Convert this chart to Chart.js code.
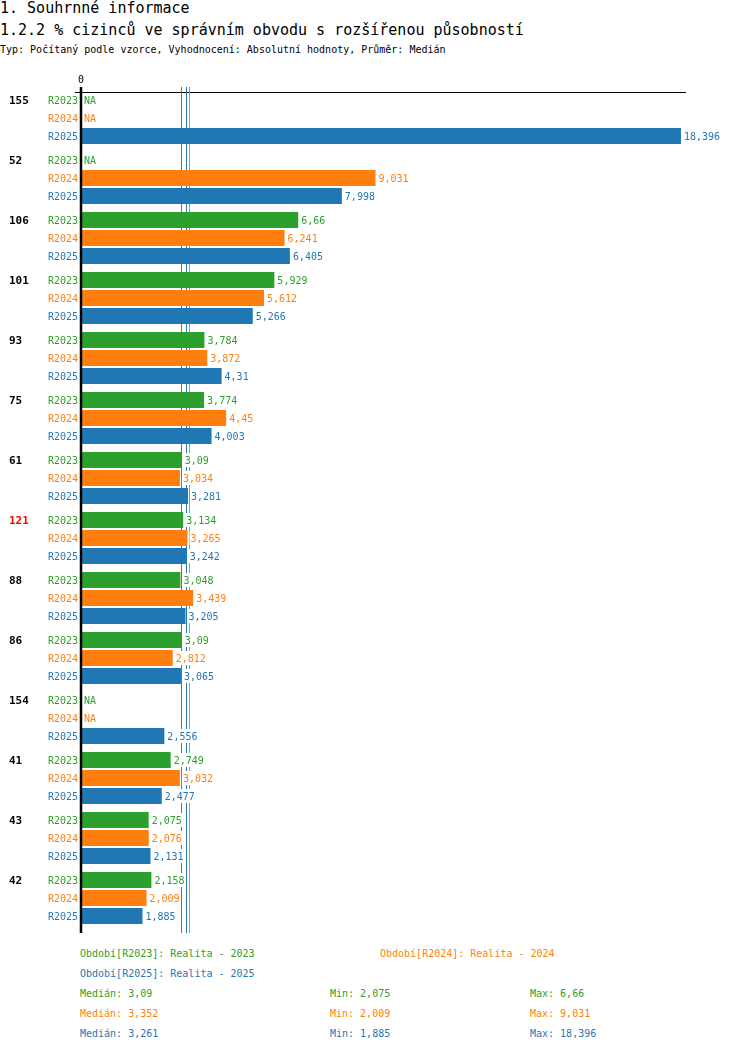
<!DOCTYPE html>
<html>
<head>
<meta charset="utf-8">
<script src="https://cdn.jsdelivr.net/npm/chart.js@4/dist/chart.umd.min.js"></script>
<style>
  body { margin: 0; background: #fff; font-family: "DejaVu Sans Mono", monospace; }
  .t { position: absolute; left: 0; white-space: pre; color: #000; }
  #wrap { position: absolute; left: 0; top: 0; width: 750px; height: 945px; }
  .lg { position: absolute; font-size: 10px; white-space: pre; line-height: 12px; }
</style>
</head>
<body>
<div class="t" style="top:0;font-size:15px;line-height:16px;">1. Souhrnné informace</div>
<div class="t" style="top:22px;font-size:15px;line-height:16px;">1.2.2 % cizinců ve správním obvodu s rozšířenou působností</div>
<div class="t" style="top:44px;font-size:10px;line-height:12px;">Typ: Počítaný podle vzorce, Vyhodnocení: Absolutní hodnoty, Průměr: Medián</div>
<div id="wrap"><canvas id="c"></canvas></div>
<div id="legend"></div>
<script>
// categories (top to bottom)
const categories = ["155", "52", "106", "101", "93", "75", "61", "121", "88", "86", "154", "41", "43", "42"];
const highlighted = ["121"];

// series values, null = NA
const r2023 = [null, null, 6.66, 5.929, 3.784, 3.774, 3.09, 3.134, 3.048, 3.09, null, 2.749, 2.075, 2.158];
const r2024 = [null, 9.031, 6.241, 5.612, 3.872, 4.45, 3.034, 3.265, 3.439, 2.812, null, 3.032, 2.076, 2.009];
const r2025 = [18.396, 7.998, 6.405, 5.266, 4.31, 4.003, 3.281, 3.242, 3.205, 3.065, 2.556, 2.477, 2.131, 1.885];

const seriesNames = ["R2023", "R2024", "R2025"];
const seriesTitles = ["Realita - 2023", "Realita - 2024", "Realita - 2025"];
const colors = ["#2ca02c", "#ff7f0e", "#1f77b4"];

// summary stats as printed below the chart
const medians = [3.09, 3.352, 3.261];
const mins = [2.075, 2.009, 1.885];
const maxs = [6.66, 9.031, 18.396];

const xMax = 18.55;
const FONT = "DejaVu Sans Mono";

function fmt(v) {
  return String(v).replace(".", ",");
}

const overlay = {
  id: "overlay",
  beforeDatasetsDraw(chart) {
    const ctx = chart.ctx;
    const a = chart.chartArea;
    const xs = chart.scales.x;
    ctx.save();
    // top line
    ctx.strokeStyle = "#000";
    ctx.lineWidth = 1;
    ctx.beginPath();
    ctx.moveTo(a.left - 6, a.top + 4.5);
    ctx.lineTo(a.right, a.top + 4.5);
    ctx.stroke();
    // median lines
    medians.forEach((m, i) => {
      const x = Math.round(xs.getPixelForValue(m)) - 0.5;
      ctx.strokeStyle = colors[i];
      ctx.beginPath();
      ctx.moveTo(x, a.top - 1);
      ctx.lineTo(x, a.bottom + 5);
      ctx.stroke();
    });
    ctx.restore();
  },
  afterDatasetsDraw(chart) {
    const ctx = chart.ctx;
    const a = chart.chartArea;
    const xs = chart.scales.x;
    ctx.save();
    // zero axis
    const x0 = xs.getPixelForValue(0);
    ctx.strokeStyle = "#000";
    ctx.lineWidth = 2.5;
    ctx.beginPath();
    ctx.moveTo(x0, a.top - 1);
    ctx.lineTo(x0, a.bottom + 5);
    ctx.stroke();
    ctx.fillStyle = "#000";
    ctx.font = "10px '" + FONT + "'";
    ctx.textAlign = "center";
    ctx.textBaseline = "middle";
    ctx.fillText("0", x0, a.top - 8);

    chart.data.datasets.forEach((ds, i) => {
      const meta = chart.getDatasetMeta(i);
      meta.data.forEach((bar, j) => {
        const y = bar.y;
        ctx.font = "10px '" + FONT + "'";
        ctx.textBaseline = "middle";
        // row label
        ctx.fillStyle = colors[i];
        ctx.textAlign = "right";
        ctx.fillText(seriesNames[i], x0 - 3, y + 1);
        // value label
        ctx.textAlign = "left";
        const v = ds.data[j];
        if (v === null) {
          ctx.fillText("NA", x0 + 3, y + 1);
        } else {
          const txt = fmt(v);
          const tx = bar.x + 3;
          const w = ctx.measureText(txt).width;
          ctx.fillStyle = "#fff";
          ctx.fillRect(tx - 1, y - 7, w + 2, 14);
          ctx.fillStyle = colors[i];
          ctx.fillText(txt, tx, y + 1);
        }
        // category label on first row
        if (i === 0) {
          ctx.font = "bold 11px '" + FONT + "'";
          ctx.fillStyle = highlighted.includes(categories[j]) ? "#ff0000" : "#000";
          ctx.fillText(categories[j], 9, y + 1);
        }
      });
    });
    ctx.restore();
  }
};

new Chart(document.getElementById("c"), {
  type: "bar",
  data: {
    labels: categories,
    datasets: [r2023, r2024, r2025].map((d, i) => ({
      label: seriesNames[i],
      data: d,
      backgroundColor: colors[i],
      categoryPercentage: 0.9,
      barPercentage: 16 / 18
    }))
  },
  options: {
    indexAxis: "y",
    responsive: true,
    maintainAspectRatio: false,
    animation: false,
    layout: { padding: { left: 81, right: 64, top: 88, bottom: 17 } },
    scales: {
      x: { display: false, min: 0, max: xMax },
      y: { display: false }
    },
    plugins: {
      legend: { display: false },
      tooltip: { enabled: false }
    }
  },
  plugins: [overlay]
});

// legend + stats below
const legend = document.getElementById("legend");
function addText(txt, x, y, color) {
  const d = document.createElement("div");
  d.className = "lg";
  d.style.left = x + "px";
  d.style.top = (y - 6) + "px";
  d.style.color = color;
  d.textContent = txt;
  legend.appendChild(d);
}
addText("Období[" + seriesNames[0] + "]: " + seriesTitles[0], 80, 954, colors[0]);
addText("Období[" + seriesNames[1] + "]: " + seriesTitles[1], 380, 954, colors[1]);
addText("Období[" + seriesNames[2] + "]: " + seriesTitles[2], 80, 974, colors[2]);
for (let i = 0; i < 3; i++) {
  const y = 994 + i * 20;
  addText("Medián: " + fmt(medians[i]), 80, y, colors[i]);
  addText("Min: " + fmt(mins[i]), 330, y, colors[i]);
  addText("Max: " + fmt(maxs[i]), 530, y, colors[i]);
}
</script>
</body>
</html>
